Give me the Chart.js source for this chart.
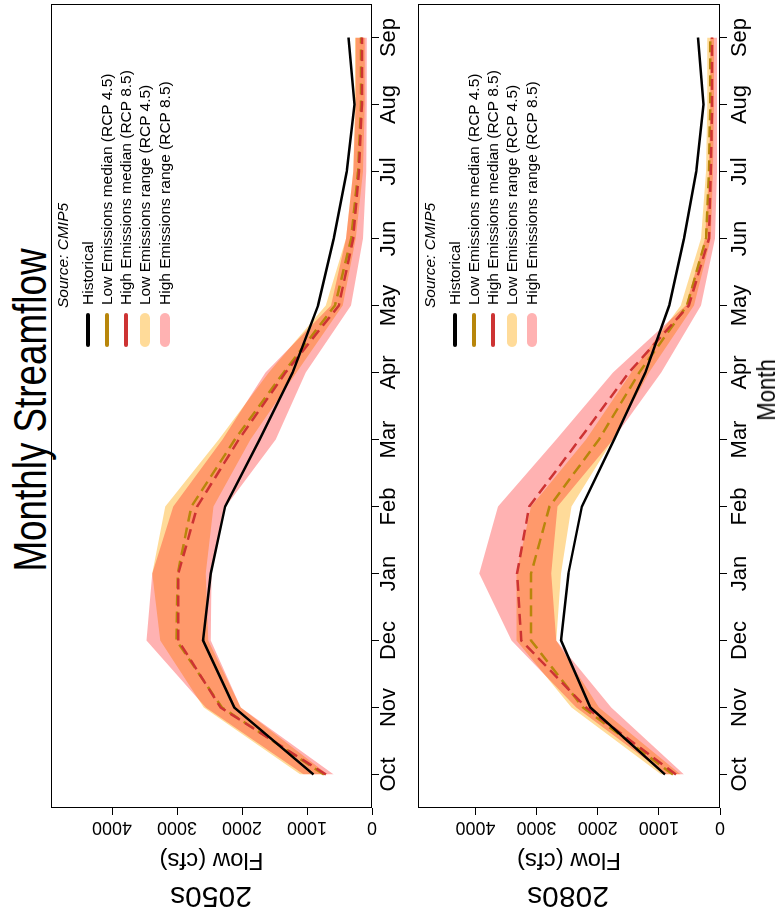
<!DOCTYPE html>
<html>
<head>
<meta charset="utf-8">
<script src="https://cdn.jsdelivr.net/npm/chart.js@4.4.1/dist/chart.umd.min.js"></script>
<style>
  html, body { margin: 0; padding: 0; background: #fff; overflow: hidden; }
  body { width: 777px; height: 920px; position: relative; }
  /* the figure is laid out landscape (920x777) and turned a quarter turn */
  #fig { position: absolute; left: 0; top: 0; width: 920px; height: 777px;
         transform-origin: 0 0; transform: translateY(920px) rotate(-90deg);
         font-family: "Liberation Sans", Arial, sans-serif; color: #000; }
  #fig canvas { position: absolute; left: 0; }
  .txt { position: absolute; white-space: nowrap; line-height: 1; }
  .sym { position: absolute; left: 573px; width: 34px; }
</style>
</head>
<body>
<div id="fig">
  <div class="txt" style="left:510px; top:30px; font-size:46px; transform:translate(-50%,-50%) scaleX(0.8);">Monthly Streamflow</div>

  <canvas id="panel2050" width="920" height="371" style="top:41px"></canvas>
  <canvas id="panel2080" width="920" height="352" style="top:408px"></canvas>

  <div class="txt" style="left:23px; top:211px; font-size:30px; transform:translate(-50%,-50%) rotate(-90deg);">2050s</div>
  <div class="txt" style="left:23px; top:568px; font-size:30px; transform:translate(-50%,-50%) rotate(-90deg);">2080s</div>
  <div class="txt" style="left:530px; top:766px; font-size:26px; transform:translate(-50%,-50%) scaleX(0.85);">Month</div>

  <div id="legend2050"></div>
  <div id="legend2080"></div>
</div>

<script>
const months = ['Oct', 'Nov', 'Dec', 'Jan', 'Feb', 'Mar', 'Apr', 'May', 'Jun', 'Jul', 'Aug', 'Sep'];
const flowTicks = [0, 1000, 2000, 3000, 4000];

const historical = [900, 2120, 2600, 2480, 2260, 1730, 1220, 830, 590, 390, 270, 360];

// 2050s
const low50Med  = [740, 2310, 3010, 2990, 2780, 2110, 1360, 570, 320, 215, 170, 170];
const high50Med = [710, 2330, 2980, 2980, 2690, 2050, 1330, 510, 290, 200, 155, 155];
const low50Max  = [1100, 2590, 3260, 3380, 3180, 2360, 1590, 710, 400, 290, 260, 260];
const low50Min  = [680, 2020, 2520, 2560, 2440, 1870, 1160, 450, 250, 140, 110, 110];
const high50Max = [1050, 2560, 3470, 3380, 3060, 2300, 1640, 630, 400, 290, 250, 250];
const high50Min = [590, 2020, 2480, 2470, 2250, 1480, 1020, 325, 140, 90, 80, 80];

// 2080s
const low80Med  = [770, 2240, 3090, 3090, 2790, 1980, 1320, 540, 230, 180, 160, 160];
const high80Med = [720, 2190, 3250, 3320, 3120, 2300, 1490, 510, 180, 150, 130, 130];
const low80Max  = [960, 2430, 3330, 3330, 3090, 2190, 1450, 640, 310, 230, 210, 210];
const low80Min  = [640, 1980, 2680, 2600, 2430, 1750, 1160, 425, 150, 115, 100, 100];
const high80Max = [880, 2350, 3410, 3940, 3630, 2680, 1750, 560, 245, 180, 160, 160];
const high80Min = [590, 1780, 2680, 2760, 2660, 1750, 960, 310, 80, 50, 50, 50];

const legendLabels = ['Historical', 'Low Emissions median (RCP 4.5)', 'High Emissions median (RCP 8.5)',
  'Low Emissions range (RCP 4.5)', 'High Emissions range (RCP 8.5)'];

const FONT = '"Liberation Sans", Arial, sans-serif';
const lowColor = '#B8860B';
const highColor = '#CD3333';
const lowRange = 'rgba(255, 165, 0, 0.4)';
const highRange = 'rgba(255, 0, 0, 0.3)';

// plot frame like R's box()
const boxPlugin = {
  id: 'box',
  afterDraw(chart) {
    const a = chart.chartArea;
    const c = chart.ctx;
    c.save();
    c.strokeStyle = '#000';
    c.lineWidth = 1;
    c.strokeRect(a.left + 0.5, a.top + 0.5, a.right - a.left - 1, a.bottom - a.top - 1);
    c.restore();
  }
};

function makePanel(id, s, xPad) {
  const ctx = document.getElementById(id).getContext('2d');
  return new Chart(ctx, {
    type: 'line',
    data: {
      labels: months,
      datasets: [
        { data: s.lowMax, fill: '+1', backgroundColor: lowRange, borderWidth: 0, order: 5 },
        { data: s.lowMin, fill: false, borderWidth: 0, order: 5 },
        { data: s.highMax, fill: '+1', backgroundColor: highRange, borderWidth: 0, order: 4 },
        { data: s.highMin, fill: false, borderWidth: 0, order: 4 },
        { data: s.lowMed, fill: false, borderColor: lowColor, borderWidth: 2.5, borderDash: [11, 6], order: 3 },
        { data: s.highMed, fill: false, borderColor: highColor, borderWidth: 2.5, borderDash: [11, 6], order: 2 },
        { data: historical, fill: false, borderColor: '#000', borderWidth: 2.5, order: 1 }
      ]
    },
    options: {
      responsive: false,
      animation: false,
      devicePixelRatio: 1,
      layout: { padding: { top: 10, right: 4, left: 0, bottom: 0 } },
      elements: { point: { radius: 0 }, line: { tension: 0 } },
      plugins: { legend: { display: false }, tooltip: { enabled: false } },
      scales: {
        x: {
          type: 'category',
          offset: true,
          grid: { offset: false, drawOnChartArea: false, tickLength: 7, color: '#000' },
          border: { display: false },
          ticks: { color: '#000', font: { family: FONT, size: 22 }, padding: xPad, maxRotation: 0, autoSkip: false },
          afterFit: scale => { scale.height = 40; }
        },
        y: {
          min: 0,
          max: 4940,
          afterBuildTicks: scale => { scale.ticks = flowTicks.map(v => ({ value: v })); },
          grid: { drawOnChartArea: false, tickLength: 7, color: '#000' },
          border: { display: false },
          ticks: {
            color: '#000', font: { family: FONT, size: 18 },
            minRotation: 90, maxRotation: 90, crossAlign: 'center', padding: -8,
            callback: v => String(v)
          },
          title: { display: true, text: 'Flow (cfs)', color: '#000', font: { family: FONT, size: 24 }, padding: { top: 46, bottom: 0 } },
          afterFit: scale => { scale.width = 112; }
        }
      }
    },
    plugins: [boxPlugin]
  });
}

function drawLegend(id, top) {
  const box = document.getElementById(id);
  const rows = [
    { color: '#000', h: 4 },
    { color: lowColor, h: 4 },
    { color: highColor, h: 4 },
    { color: lowRange, h: 10 },
    { color: highRange, h: 10 }
  ];
  let html = `<div class="txt" style="left:612px; top:${top + 12}px; font-size:15.5px; font-style:italic; transform:translateY(-50%);">Source: CMIP5</div>`;
  rows.forEach((r, i) => {
    const y = top + 36.5 + i * 19.3;
    html += `<div class="sym" style="top:${y - r.h / 2}px; height:${r.h}px; border-radius:${r.h / 2}px; background:${r.color};"></div>`;
    html += `<div class="txt" style="left:615px; top:${y}px; font-size:15.5px; transform:translateY(-50%);">${legendLabels[i]}</div>`;
  });
  box.innerHTML = html;
}

makePanel('panel2050', {
  lowMed: low50Med, highMed: high50Med, lowMax: low50Max, lowMin: low50Min, highMax: high50Max, highMin: high50Min
}, -3.5);
makePanel('panel2080', {
  lowMed: low80Med, highMed: high80Med, lowMax: low80Max, lowMin: low80Min, highMax: high80Max, highMin: high80Min
}, 0);

drawLegend('legend2050', 51);
drawLegend('legend2080', 418);
</script>
</body>
</html>
